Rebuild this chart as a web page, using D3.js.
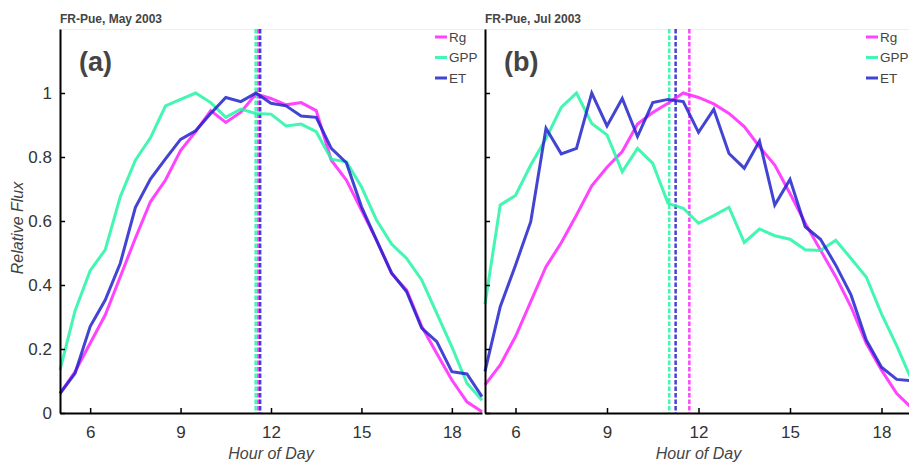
<!DOCTYPE html>
<html><head><meta charset="utf-8">
<script src="https://cdn.jsdelivr.net/npm/d3@7"></script>
<style>body{margin:0;background:#fff}svg{display:block;font-family:"Liberation Sans",Arial,sans-serif}</style>
</head><body><svg id="c" width="909" height="462"></svg>
<script>
const hours = d3.range(5, 19.01, 0.5);
const seriesNames = ["Rg", "GPP", "ET"];
const seriesColors = ["#ff22ff", "#22f5a5", "#2222cc"];
const titles = ["FR-Pue, May 2003", "FR-Pue, Jul 2003"];
const panelLabels = ["(a)", "(b)"];
const xTicks = [6, 9, 12, 15, 18];
const yTicks = [0, 0.2, 0.4, 0.6, 0.8, 1];
const yTickLabels = ["0", "0.2", "0.4", "0.6", "0.8", "1"];

// Panel (a) May
const rgMay  = [0.061,0.129,0.218,0.306,0.426,0.546,0.660,0.728,0.820,0.879,0.945,0.908,0.940,0.997,0.983,0.963,0.970,0.945,0.790,0.728,0.634,0.540,0.436,0.384,0.270,0.186,0.103,0.035,0.004];
const gppMay = [0.134,0.320,0.445,0.510,0.676,0.790,0.860,0.960,0.980,1.000,0.970,0.924,0.950,0.936,0.934,0.897,0.903,0.879,0.793,0.785,0.707,0.603,0.528,0.483,0.416,0.311,0.207,0.093,0.040];
const etMay  = [0.061,0.124,0.270,0.353,0.468,0.642,0.731,0.794,0.855,0.882,0.936,0.986,0.973,1.000,0.968,0.960,0.928,0.924,0.827,0.782,0.645,0.540,0.438,0.379,0.265,0.223,0.129,0.122,0.051];
// Panel (b) Jul
const rgJul  = [0.088,0.150,0.239,0.348,0.457,0.532,0.619,0.710,0.768,0.817,0.903,0.939,0.968,1.000,0.986,0.966,0.936,0.895,0.832,0.775,0.686,0.593,0.509,0.426,0.332,0.218,0.134,0.061,0.015];
const gppJul = [0.340,0.650,0.680,0.775,0.858,0.955,1.000,0.905,0.869,0.754,0.827,0.780,0.655,0.640,0.593,0.617,0.643,0.533,0.575,0.554,0.543,0.510,0.508,0.540,0.483,0.425,0.310,0.210,0.100];
const etJul  = [0.130,0.332,0.462,0.598,0.890,0.810,0.827,1.000,0.897,0.983,0.864,0.970,0.980,0.973,0.877,0.949,0.811,0.765,0.850,0.650,0.730,0.582,0.543,0.462,0.369,0.228,0.143,0.105,0.101];
// Dashed centre markers (hour) for Rg, GPP, ET
const centerMay = [11.58, 11.49, 11.64];
const centerJul = [11.70, 11.04, 11.25];

const panels = [
  {series: [rgMay, gppMay, etMay], centers: centerMay, x0: 60, x1: 482, yLabels: true},
  {series: [rgJul, gppJul, etJul], centers: centerJul, x0: 485, x1: 912, yLabels: false}
];

const svg = d3.select("#c");
const yTop = 29, yBot = 413;
const y = d3.scaleLinear().domain([0, 1.2]).range([yBot, yTop]);
const txt = "#444";

// faint top line
svg.append("line").attr("x1", 60).attr("x2", 909).attr("y1", yTop + 0.5).attr("y2", yTop + 0.5)
  .attr("stroke", "#eeeeee").attr("stroke-width", 1);

panels.forEach((p, pi) => {
  const x = d3.scaleLinear().domain([5, 19]).range([p.x0, p.x1]);
  const g = svg.append("g");

  // dashed centre lines
  p.centers.forEach((c, si) => {
    g.append("line").attr("x1", x(c)).attr("x2", x(c)).attr("y1", yTop).attr("y2", yBot)
      .attr("stroke", seriesColors[si]).attr("stroke-opacity", 0.85)
      .attr("stroke-width", 2.5).attr("stroke-dasharray", "4.5,2");
  });

  // series lines
  const line = d3.line().x((d, i) => x(hours[i])).y(d => y(d));
  p.series.forEach((vals, si) => {
    g.append("path").datum(vals).attr("d", line).attr("fill", "none")
      .attr("stroke", seriesColors[si]).attr("stroke-opacity", 0.85)
      .attr("stroke-width", 3).attr("stroke-linejoin", "miter");
  });

  // axes
  const xAxis = d3.axisBottom(x).tickValues(xTicks).tickSizeInner(-5).tickSizeOuter(0).tickPadding(13);
  const gx = svg.append("g").attr("transform", `translate(0,${yBot})`).call(xAxis);
  const yAxis = d3.axisLeft(y).tickValues(yTicks).tickSizeInner(-5).tickSizeOuter(0).tickPadding(8)
    .tickFormat((d, i) => p.yLabels ? yTickLabels[i] : "");
  const gy = svg.append("g").attr("transform", `translate(${p.x0},0)`).call(yAxis);
  [gx, gy].forEach(a => {
    a.select(".domain").attr("stroke", "#000").attr("stroke-width", 2);
    a.selectAll(".tick line").attr("stroke", "#000").attr("stroke-width", 1.5);
    a.selectAll(".tick text").attr("fill", "#333").style("font-size", "17px")
      .style("font-family", "'Liberation Sans', Arial, sans-serif");
  });

  // title
  svg.append("text").attr("x", p.x0).attr("y", 23).attr("fill", txt)
    .style("font-size", "12px").style("font-weight", "bold").text(titles[pi]);
  // panel label
  svg.append("text").attr("x", p.x0 + 19).attr("y", 71).attr("fill", txt)
    .style("font-size", "27px").style("font-weight", "bold").text(panelLabels[pi]);
  // x label
  svg.append("text").attr("x", (p.x0 + p.x1) / 2).attr("y", 459).attr("text-anchor", "middle")
    .attr("fill", txt).style("font-size", "16px").style("font-style", "italic").text("Hour of Day");

  // legend
  const lx = pi === 0 ? 435 : 866;
  seriesNames.forEach((n, si) => {
    const ly = 37 + si * 20.5;
    svg.append("line").attr("x1", lx).attr("x2", lx + 12).attr("y1", ly).attr("y2", ly)
      .attr("stroke", seriesColors[si]).attr("stroke-opacity", 0.85).attr("stroke-width", 3);
    svg.append("text").attr("x", lx + 14).attr("y", ly).attr("dy", "0.35em").attr("fill", txt)
      .style("font-size", "13.5px").text(n);
  });
});

// y label
svg.append("text").attr("transform", "translate(23,228) rotate(-90)").attr("text-anchor", "middle")
  .attr("fill", txt).style("font-size", "16px").style("font-style", "italic").text("Relative Flux");
</script>
</body></html>
